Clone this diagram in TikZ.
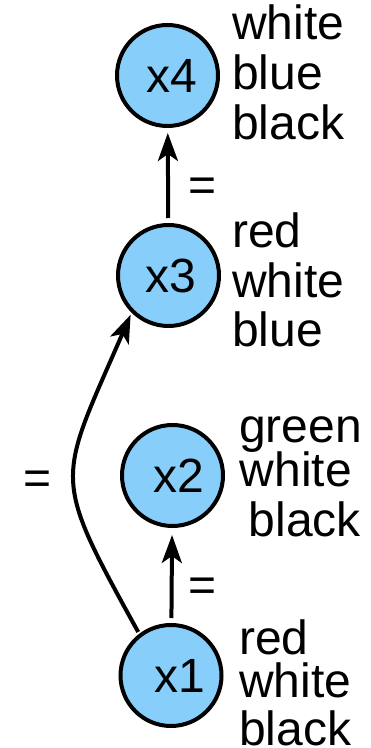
\documentclass[tikz,border=0pt]{standalone}
\usepackage{fontspec}
\setmainfont{Liberation Sans}
\usetikzlibrary{arrows.meta}
\definecolor{nodefill}{RGB}{135,206,250}
\begin{document}
\begin{tikzpicture}[x=1pt,y=1pt,
  var/.style={circle, draw=black, fill=nodefill, line width=4pt, minimum size=101pt,
    inner sep=0pt, outer sep=4pt, font=\fontsize{48}{50}\selectfont},
  lbl/.style={anchor=base west, inner sep=0pt, font=\fontsize{48}{50}\selectfont},
  eqlbl/.style={anchor=base, inner sep=0pt, font=\fontsize{48}{50}\selectfont},
  link/.style={line width=4pt, -{Stealth[length=28pt,width=20pt,inset=7pt]}},
]
\useasboundingbox (0,0) rectangle (370,748);
% variable nodes
\node[var] (x4) at (167.5,672.5) {\hspace{8pt}x4};
\node[var] (x3) at (168.5,472.5) {\hspace{5pt}x3};
\node[var] (x2) at (172.5,272.5) {\hspace{12pt}x2};
\node[var] (x1) at (171,72.5) {\hspace{18pt}x1};
% connectors
\draw[link, shorten <=3pt, shorten >=3pt] (x3) -- (x4);
\draw[link, shorten <=3pt, shorten >=5pt] (x1) -- (x2);
\draw[link] (x1.127) .. controls (50.3,275.4) and (57.4,264.3) .. (x3.226.5);
% edge labels
\node[eqlbl] (e34) at (203,546.5) {=};
\node[eqlbl] (e12) at (203,146.5) {=};
\node[eqlbl] (e13) at (38,253) {=};
% colour labels
\node[lbl] (x4a) at (232,708) {white};
\node[lbl] (x4b) at (232,658) {blue};
\node[lbl] (x4c) at (232,608) {black};
\node[lbl] (x3a) at (232,500) {red};
\node[lbl] (x3b) at (232,450) {white};
\node[lbl] (x3c) at (232,401) {blue};
\node[lbl] (x2a) at (239,305) {green};
\node[lbl] (x2b) at (239.5,261) {white};
\node[lbl] (x2c) at (248.5,211) {black};
\node[lbl] (x1a) at (239,93) {red};
\node[lbl] (x1b) at (239,50) {white};
\node[lbl] (x1c) at (239,2) {black};
\end{tikzpicture}
\end{document}
